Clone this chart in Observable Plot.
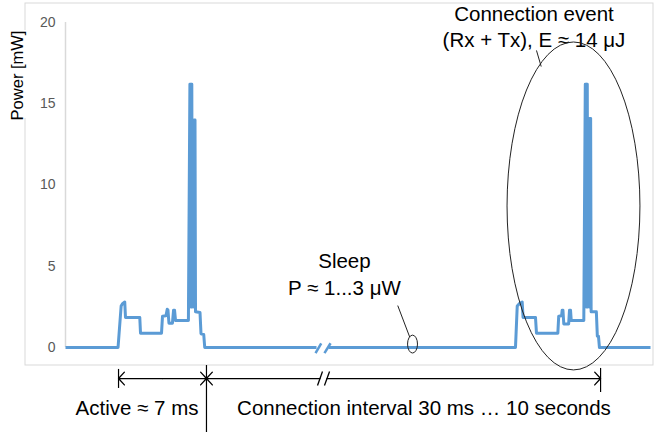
<!DOCTYPE html>
<html><head><meta charset="utf-8">
<script src="https://cdn.jsdelivr.net/npm/d3@7"></script>
<script src="https://cdn.jsdelivr.net/npm/@observablehq/plot@0.6"></script>
<style>
html,body{margin:0;padding:0;background:#fff;}
#chart svg{display:block;}
</style></head><body><div id="chart"></div>
<script>
// Time axis in ms (arbitrary, broken), power in mW
const yTicks = [0, 5, 10, 15, 20];

// first connection event (active) + start of sleep
const burst1Time  = [0, 4.23, 4.48, 4.59, 4.77, 4.83, 5.98, 6.04, 7.73, 7.81, 8.09, 8.19, 8.25, 8.33, 8.61, 8.70, 8.78, 8.86, 9.895, 10.016, 10.081, 10.113, 10.145, 10.169, 10.209, 10.258, 10.322, 10.362, 10.427, 10.467, 10.83, 10.91, 11.13, 11.21, 20.21];
const burst1Power = [0, 0, 2.55, 2.7, 2.8, 1.85, 1.85, 0.88, 0.88, 1.93, 1.95, 2.35, 2.3, 1.5, 1.5, 2.3, 2.3, 1.66, 1.66, 16.2, 16.2, 2.5, 16.2, 16.2, 2.5, 14.0, 2.5, 14.0, 14.0, 2.2, 2.15, 0.85, 0.8, 0, 0];

// rest of sleep + second connection event
const burst2Time  = [21.18, 36.23, 36.37, 36.55, 36.77, 36.84, 37.84, 37.92, 39.64, 39.71, 39.94, 39.99, 40.05, 40.12, 40.51, 40.58, 40.66, 40.72, 41.73, 41.85, 41.92, 41.95, 41.98, 42.01, 42.05, 42.10, 42.16, 42.20, 42.28, 42.32, 42.74, 42.82, 42.91, 42.99, 47.1];
const burst2Power = [0, 0, 2.55, 2.7, 2.8, 1.85, 1.85, 0.88, 0.88, 1.93, 1.95, 2.3, 2.3, 1.45, 1.45, 2.3, 2.3, 1.66, 1.66, 16.2, 16.2, 2.5, 16.2, 16.2, 2.5, 14.1, 2.5, 14.1, 14.1, 2.2, 2.2, 0.7, 0.7, 0, 0];

// axis-break slashes on the trace
const breakSlashX1 = [20.13, 20.85];
const breakSlashX2 = [20.59, 21.34];
const breakSlashY  = [-0.35, 0.26];

// bottom timing annotation
const activeSpan   = [4.27, 11.35];
const intervalSpan = [11.35, 43.08];
const intervalBreak = [20.49, 21.05];
const spanLevel = -1.91;
const spanLabels = ["Active ≈ 7 ms", "Connection interval 30 ms … 10 seconds"];
const spanLabelX = [5.76, 28.86];
const spanLabelY = -4.18;

const sleepLabel = "Sleep\nP ≈ 1...3 μW";
const eventLabel = "Connection event\n(Rx + Tx), E ≈ 14 μJ";

const series = [
  ...burst1Time.map((t, i) => ({t, p: burst1Power[i], seg: 1})),
  ...burst2Time.map((t, i) => ({t, p: burst2Power[i], seg: 2}))
];

const blue = "#5b9bd5";
const font = "'Liberation Sans', Arial, sans-serif";
const fs = 20.5;

const plot = Plot.plot({
  width: 654, height: 432,
  marginLeft: 65, marginRight: 4, marginTop: 22, marginBottom: 85,
  x: {domain: [0, 47.1], axis: null},
  y: {domain: [0, 20], axis: null},
  style: {fontFamily: font, background: "white", overflow: "visible"},
  marks: [
    Plot.axisY({ticks: yTicks, tickSize: 0, tickPadding: 10, fontSize: 14, color: "#595959", label: null}),
    Plot.ruleX([0], {y1: 0, y2: 20, stroke: "#d9d9d9", strokeWidth: 1.5}),
    Plot.line(series, {x: "t", y: "p", z: "seg", stroke: blue, strokeWidth: 3, strokeLinejoin: "round", strokeLinecap: "butt"}),
    Plot.link(breakSlashX1, {x1: (d) => d, x2: (d, i) => breakSlashX2[i], y1: breakSlashY[0], y2: breakSlashY[1], stroke: blue, strokeWidth: 2.5}),
    // leader lines
    Plot.link([0], {x1: 26.75, y1: 2.58, x2: 27.72, y2: 0.63, stroke: "#222", strokeWidth: 1}),
    Plot.link([0], {x1: 37.92, y1: 18.28, x2: 38.3, y2: 17.29, stroke: "#222", strokeWidth: 1}),
    // annotation texts
    Plot.text([sleepLabel], {x: 22.46, y: 3.26, text: (d) => d, lineAnchor: "bottom", lineHeight: 1.27, fontSize: fs, fill: "black"}),
    Plot.text([eventLabel], {x: 37.72, y: 18.48, text: (d) => d, lineAnchor: "bottom", lineHeight: 1.27, fontSize: fs, fill: "black"}),
    Plot.text(["Power [mW]"], {frameAnchor: "left", dx: -43, y: 16.74, rotate: -90, textAnchor: "middle", text: (d) => d, lineAnchor: "bottom", fontSize: 16.5, fill: "black"}),
    // bottom timing arrows
    Plot.arrow([
      {a: (activeSpan[0] + activeSpan[1]) / 2, b: activeSpan[0]},
      {a: (activeSpan[0] + activeSpan[1]) / 2, b: activeSpan[1]},
      {a: intervalBreak[0], b: intervalSpan[0]},
      {a: intervalBreak[1], b: intervalSpan[1]}
    ], {x1: "a", x2: "b", y1: spanLevel, y2: spanLevel, bend: 0, headLength: 10, headAngle: 95, stroke: "black", strokeWidth: 1.3}),
    Plot.link(breakSlashX1, {x1: (d, i) => [20.29, 20.85][i], x2: (d, i) => [20.69, 21.26][i], y1: spanLevel - 0.43, y2: spanLevel + 0.43, stroke: "black", strokeWidth: 1.3}),
    Plot.ruleX([activeSpan[0]], {y1: -1.35, y2: -2.52, stroke: "black", strokeWidth: 1.2}),
    Plot.ruleX([activeSpan[1]], {y1: -1.11, y2: -5.3, stroke: "black", strokeWidth: 1.2}),
    Plot.ruleX([intervalSpan[1]], {y1: -1.29, y2: -2.77, stroke: "black", strokeWidth: 1.2}),
    Plot.text(spanLabels, {x: (d, i) => spanLabelX[i], y: spanLabelY, text: (d) => d, lineAnchor: "bottom", fontSize: fs, fill: "black"})
  ]
});

const svg = d3.select(plot);
const xs = plot.scale("x"), ys = plot.scale("y");
// chart-area border, with a gap behind the axis title
svg.insert("rect", ":first-child")
  .attr("x", 25).attr("y", 3).attr("width", 628).attr("height", 362)
  .attr("fill", "none").attr("stroke", "#d9d9d9").attr("stroke-width", 1);
svg.insert("rect", ":nth-child(2)")
  .attr("x", 20).attr("y", 30).attr("width", 10).attr("height", 88).attr("fill", "white");
svg.insert("rect", ":first-child").attr("width", 654).attr("height", 432).attr("fill", "white");

// ellipse around the second connection event
const ev = {cx: 40.94, cy: 8.68, rx: 5.35, ry: 10.09};
svg.append("ellipse")
  .attr("cx", xs.apply(ev.cx)).attr("cy", ys.apply(ev.cy))
  .attr("rx", xs.apply(ev.cx + ev.rx) - xs.apply(ev.cx))
  .attr("ry", ys.apply(ev.cy - ev.ry) - ys.apply(ev.cy))
  .attr("fill", "none").attr("stroke", "#222").attr("stroke-width", 1);
// small ellipse on the sleep line
const sl = {cx: 27.98, cy: 0.18, rx: 0.4, ry: 0.55};
svg.append("ellipse")
  .attr("cx", xs.apply(sl.cx)).attr("cy", ys.apply(sl.cy))
  .attr("rx", xs.apply(sl.cx + sl.rx) - xs.apply(sl.cx))
  .attr("ry", ys.apply(sl.cy - sl.ry) - ys.apply(sl.cy))
  .attr("fill", "none").attr("stroke", "#222").attr("stroke-width", 1);

document.getElementById("chart").appendChild(plot);
</script></body></html>
